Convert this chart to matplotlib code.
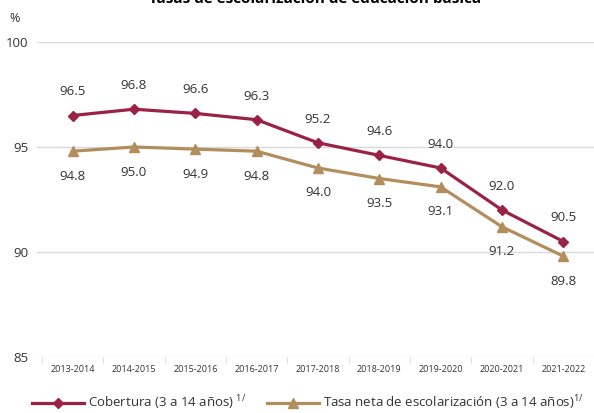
import matplotlib.pyplot as plt

plt.rcParams['font.family'] = ['Open Sans', 'DejaVu Sans']

# Datos
ciclos = ['2013-2014', '2014-2015', '2015-2016', '2016-2017', '2017-2018',
          '2018-2019', '2019-2020', '2020-2021', '2021-2022']
cobertura = [96.5, 96.8, 96.6, 96.3, 95.2, 94.6, 94.0, 92.0, 90.5]
tasa_neta = [94.8, 95.0, 94.9, 94.8, 94.0, 93.5, 93.1, 91.2, 89.8]
y_ticks = [85, 90, 95, 100]

c_cob = '#9b2247'
c_tasa = '#b38e5d'

fig = plt.figure(figsize=(5.94, 4.13), dpi=100)
ax = fig.add_axes([37 / 594, 1 - 357 / 413, 1 - 37 / 594, 315 / 413])

x = list(range(len(ciclos)))
ax.plot(x, cobertura, color=c_cob, lw=2.3, marker='D', ms=5,
        label=r'Cobertura (3 a 14 años) $^{\mathregular{1/}}$')
ax.plot(x, tasa_neta, color=c_tasa, lw=2.3, marker='^', ms=7,
        label=r'Tasa neta de escolarización (3 a 14 años)$^{\mathregular{1/}}$')

for xi, v in zip(x, cobertura):
    ax.annotate(f'{v:.1f}', (xi, v), xytext=(0, 17), textcoords='offset points',
                ha='center', va='center', fontsize=9.5, color='#333333')
for xi, v in zip(x, tasa_neta):
    ax.annotate(f'{v:.1f}', (xi, v), xytext=(0, -18), textcoords='offset points',
                ha='center', va='center', fontsize=9.5, color='#333333')

ax.set_xlim(-0.58, 8.46)
ax.set_ylim(85, 100)
ax.set_yticks(y_ticks)
ax.set_xticks(x)
ax.set_xticklabels(ciclos, fontsize=6.5, color='#333333')
ax.set_xticks([i + 0.5 for i in range(-1, len(ciclos))], minor=True)
ax.tick_params(axis='x', which='major', length=0, pad=6)
ax.tick_params(axis='x', which='minor', length=4, color='#d9d9d9')
ax.tick_params(axis='y', length=0, labelsize=9.5, labelcolor='#333333', pad=6)
ax.grid(axis='y', color='#d9d9d9', lw=1)
ax.set_axisbelow(True)
for s in ax.spines.values():
    s.set_visible(False)

fig.text(15 / 594, 1 - 18 / 413, '%', fontsize=9, color='#333333', ha='center', va='center')
fig.text(315 / 594, 1 - 3 / 413, 'Tasas de escolarización de educación básica',
         fontsize=11, fontweight='bold', ha='center', va='baseline')

fig.legend(loc='center', bbox_to_anchor=(308 / 594, 1 - 403 / 413), ncol=2, frameon=False,
           fontsize=9.5, handlelength=4, columnspacing=1.5, handletextpad=0.3,
           labelcolor='#333333')

fig.savefig('out.png', dpi=100)
